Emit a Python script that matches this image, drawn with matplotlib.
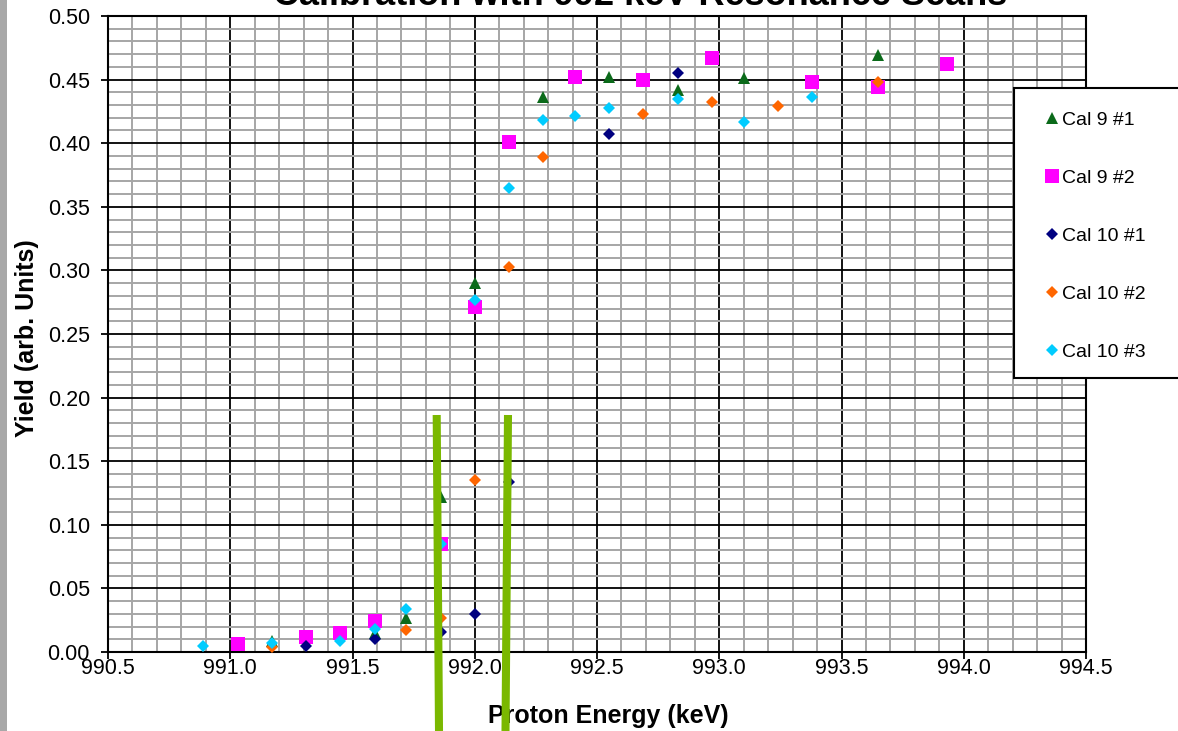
import matplotlib
matplotlib.use("Agg")
import matplotlib.pyplot as plt
from matplotlib.ticker import MultipleLocator, FormatStrFormatter
from matplotlib.lines import Line2D
from matplotlib.patches import Rectangle

plt.rcParams['font.family'] = ['Liberation Sans', 'DejaVu Sans']

# ---- data ----
cal9_1_x = [991.17, 991.59, 991.72, 991.86, 992.00, 992.28, 992.55, 992.83, 993.10, 993.65]
cal9_1_y = [0.009, 0.015, 0.027, 0.122, 0.290, 0.436, 0.452, 0.442, 0.451, 0.469]

cal9_2_x = [991.03, 991.31, 991.45, 991.59, 991.86, 992.00, 992.14, 992.41, 992.69, 992.97, 993.38, 993.65, 993.93]
cal9_2_y = [0.006, 0.012, 0.015, 0.024, 0.085, 0.271, 0.401, 0.452, 0.450, 0.467, 0.448, 0.444, 0.462]

cal10_1_x = [991.31, 991.59, 991.86, 992.00, 992.14, 992.55, 992.83]
cal10_1_y = [0.005, 0.010, 0.016, 0.030, 0.134, 0.407, 0.455]

cal10_2_x = [991.17, 991.72, 991.86, 992.00, 992.14, 992.28, 992.69, 992.97, 993.24, 993.65]
cal10_2_y = [0.004, 0.017, 0.027, 0.135, 0.303, 0.389, 0.423, 0.432, 0.429, 0.448]

cal10_3_x = [990.89, 991.17, 991.45, 991.59, 991.72, 991.86, 992.00, 992.14, 992.28, 992.41, 992.55, 992.83, 993.10, 993.38]
cal10_3_y = [0.005, 0.007, 0.009, 0.018, 0.034, 0.085, 0.277, 0.365, 0.418, 0.421, 0.428, 0.435, 0.417, 0.436]

labels = ["Cal 9 #1", "Cal 9 #2", "Cal 10 #1", "Cal 10 #2", "Cal 10 #3"]

W, H = 1178, 731
fig = plt.figure(figsize=(W / 100, H / 100), dpi=100)
fig.patch.set_facecolor('white')

ax = fig.add_axes([108 / W, 1 - 652 / H, (1086 - 108) / W, (652 - 16) / H])

series = [
    (cal9_1_x, cal9_1_y, '^', '#0b6a1a', 8.5),
    (cal9_2_x, cal9_2_y, 's', '#ff00ff', 9.5),
    (cal10_1_x, cal10_1_y, 'D', '#000080', 6.2),
    (cal10_2_x, cal10_2_y, 'D', '#ff6600', 6.2),
    (cal10_3_x, cal10_3_y, 'D', '#00ccff', 6.2),
]
handles = []
for (xs, ys, m, c, ms), lab in zip(series, labels):
    h, = ax.plot(xs, ys, linestyle='none', marker=m, color=c, markersize=ms,
                 markeredgewidth=0, label=lab, zorder=3)
    handles.append(h)

ax.set_xlim(990.5, 994.5)
ax.set_ylim(0.0, 0.5)
ax.xaxis.set_major_locator(MultipleLocator(0.5))
ax.xaxis.set_minor_locator(MultipleLocator(0.1))
ax.yaxis.set_major_locator(MultipleLocator(0.05))
ax.yaxis.set_minor_locator(MultipleLocator(0.01))
ax.xaxis.set_major_formatter(FormatStrFormatter('%.1f'))
ax.yaxis.set_major_formatter(FormatStrFormatter('%.2f'))
ax.set_axisbelow(True)
ax.grid(which='minor', color='#a6a6a6', linewidth=1.4, zorder=0)
ax.grid(which='major', color='black', linewidth=1.3, zorder=1)
ax.tick_params(which='major', direction='out', length=5, width=1.3,
               labelsize=15.5, colors='black')
ax.tick_params(axis='x', which='major', pad=-1)
ax.tick_params(axis='y', which='major', pad=8)
ax.tick_params(which='minor', length=0)
for s in ax.spines.values():
    s.set_linewidth(1.5)
    s.set_color('black')

fig.text(608 / W, 1 - 716 / H, "Proton Energy (keV)", ha='center', va='center',
         fontsize=18, fontweight='bold')
fig.text(27 / W, 1 - 338 / H, "Yield (arb. Units)", ha='center', va='center',
         rotation=90, fontsize=18, fontweight='bold')
fig.text(640 / W, 1 - 5 / H, "Calibration with 992 keV Resonance Scans",
         ha='center', va='baseline', fontsize=26, fontweight='bold')

# left gray strip
fig.patches.append(Rectangle((0, 0), 7 / W, 1, transform=fig.transFigure,
                             facecolor='#a8a8a8', edgecolor='none', zorder=0))

# legend frame
fig.patches.append(Rectangle((1014 / W, 1 - 378 / H), (1200 - 1014) / W, (378 - 88) / H,
                             transform=fig.transFigure, facecolor='white',
                             edgecolor='black', linewidth=1.5, zorder=5))
leg = fig.legend(handles=handles, loc='upper left',
                 bbox_to_anchor=(1045 / W, 1 - 111 / H), bbox_transform=fig.transFigure,
                 frameon=False, fontsize=14, labelspacing=2.08, handlelength=0.7,
                 handletextpad=0.15, borderaxespad=0, borderpad=0)
leg.set_zorder(6)

# green marker lines
fig.add_artist(Line2D([436.7 / W, 439 / W], [1 - 415 / H, 0], transform=fig.transFigure,
                      color='#7ab800', linewidth=5.8, solid_capstyle='butt', zorder=10))
fig.add_artist(Line2D([508 / W, 505.5 / W], [1 - 415 / H, 0], transform=fig.transFigure,
                      color='#7ab800', linewidth=5.8, solid_capstyle='butt', zorder=10))

fig.savefig('out.png', dpi=100, facecolor='white')
